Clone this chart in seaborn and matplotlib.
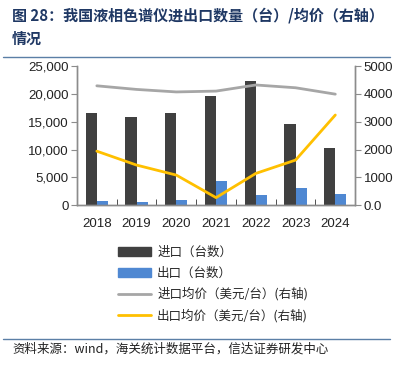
import seaborn as sns
import matplotlib.pyplot as plt
import matplotlib.lines as mlines
import matplotlib.patches as mpatches
import pandas as pd

sns.set_style("white")
plt.rcParams['font.family'] = ['Liberation Sans', 'Noto Sans CJK SC', 'DejaVu Sans']

# data
years = ["2018", "2019", "2020", "2021", "2022", "2023", "2024"]
import_qty = [16500, 15900, 16500, 19600, 22400, 14500, 10300]
export_qty = [700, 650, 850, 4250, 1800, 3000, 1950]
import_price = [4290, 4160, 4070, 4100, 4320, 4220, 3990]
export_price = [1940, 1440, 1080, 270, 1140, 1620, 3240]

bar_labels = ["进口（台数）", "出口（台数）"]
line_labels = ["进口均价（美元/台）(右轴)", "出口均价（美元/台）(右轴)"]

dark = "#404040"
blue = "#4f88d2"
gray = "#a6a6a6"
yellow = "#ffc000"
axis_col = "#8c8c8c"

bars = pd.DataFrame({
    "year": years * 2,
    "value": import_qty + export_qty,
    "kind": [bar_labels[0]] * len(years) + [bar_labels[1]] * len(years),
})
lines = pd.DataFrame({
    "pos": list(range(len(years))) * 2,
    "value": import_price + export_price,
    "kind": [line_labels[0]] * len(years) + [line_labels[1]] * len(years),
})

fig = plt.figure(figsize=(4.05, 3.65), dpi=100)
ax = fig.add_axes([0.190, 0.438, 0.687, 0.381])

sns.barplot(data=bars, x="year", y="value", hue="kind", order=years,
            palette=[dark, blue], width=0.56, saturation=1, linewidth=0,
            ax=ax, legend=False)
ax.set_ylim(0, 25000)
ax.set_xlim(-0.5, len(years) - 0.5)
ax.set_yticks(range(0, 25001, 5000))
ax.set_yticklabels([f"{v:,}" for v in range(0, 25001, 5000)])
ax.set_xlabel("")
ax.set_ylabel("")

ax2 = ax.twinx()
sns.lineplot(data=lines, x="pos", y="value", hue="kind",
             palette=[gray, yellow], linewidth=2, ax=ax2, legend=False)
ax2.set_ylim(0, 5000)
ax2.set_xlim(-0.5, len(years) - 0.5)
ax2.set_yticks(range(0, 5001, 1000))
ax2.set_yticklabels(["0.0", "1000", "2000", "3000", "4000", "5000"])
ax2.set_ylabel("")
ax2.set_xlabel("")

for a in (ax, ax2):
    a.spines["top"].set_visible(False)
    for s in ("left", "right", "bottom"):
        a.spines[s].set_color(axis_col)
        a.spines[s].set_linewidth(1)
    a.tick_params(labelsize=9.5, colors="#222222")
ax.tick_params(axis="y", left=True, length=4, color=axis_col, direction="out", pad=2)
ax.tick_params(axis="x", bottom=False, pad=6)
ax2.tick_params(axis="y", right=True, length=4, color=axis_col, direction="out", pad=2)

# small category separator ticks on the x axis
ax.set_xticks([i + 0.5 for i in range(len(years) - 1)], minor=True)
ax.tick_params(axis="x", which="minor", bottom=True, direction="in", length=4,
               color="#333333")

handles = [
    mpatches.Patch(color=dark, label=bar_labels[0]),
    mpatches.Patch(color=blue, label=bar_labels[1]),
    mlines.Line2D([], [], color=gray, lw=2, label=line_labels[0]),
    mlines.Line2D([], [], color=yellow, lw=2, label=line_labels[1]),
]
fig.legend(handles=handles, loc="upper left", bbox_to_anchor=(0.28, 0.34),
           frameon=False, handlelength=2.6, handleheight=0.7,
           labelspacing=0.62, handletextpad=0.5, borderaxespad=0,
           prop={"family": ["Noto Sans CJK SC"], "size": 9})

title_col = "#1f3864"
fig.text(0.03, 0.958, "图 28：我国液相色谱仪进出口数量（台）/均价（右轴）",
         fontsize=10.8, fontweight="bold", color=title_col, va="center",
         family=["Noto Sans CJK SC"])
fig.text(0.03, 0.893, "情况", fontsize=10.8, fontweight="bold", color=title_col,
         va="center", family=["Noto Sans CJK SC"])
fig.add_artist(mlines.Line2D([0.008, 0.963], [0.843, 0.843], color="#5b7fa6", lw=1))
fig.add_artist(mlines.Line2D([0.008, 0.963], [0.071, 0.071], color="#5b7fa6", lw=1))
fig.text(0.03, 0.045, "资料来源：wind，海关统计数据平台，信达证券研发中心",
         fontsize=9, style="italic", color="#222222", va="center",
         family=["Noto Sans CJK SC", "Liberation Serif"])

fig.savefig("out.png", dpi=100)
plt.close(fig)
